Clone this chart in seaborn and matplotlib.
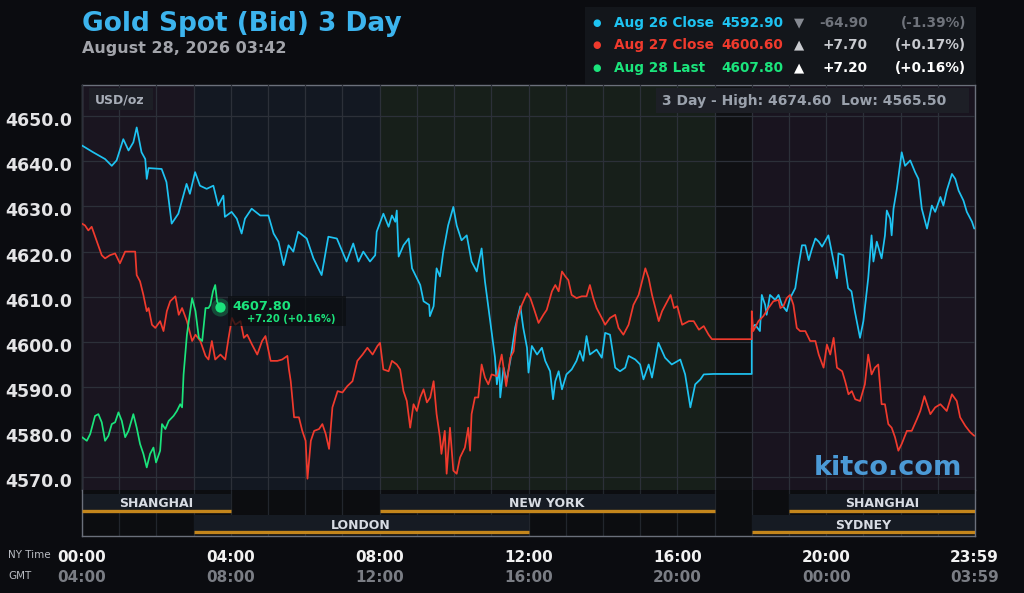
import matplotlib
matplotlib.use("Agg")
import matplotlib.pyplot as plt
import matplotlib.transforms as mtrans
from matplotlib.patches import Rectangle
import numpy as np
import pandas as pd
import seaborn as sns

# ---------------- data ----------------
aug26_hours = [0.00, 0.30, 0.62, 0.80, 0.93, 1.11, 1.25, 1.38, 1.47, 1.60, 1.70, 1.74, 1.79, 2.14, 2.27,
               2.41, 2.59, 2.81, 2.90, 3.04, 3.17, 3.35, 3.53, 3.66, 3.80, 3.84, 4.02, 4.16, 4.29, 4.38,
               4.56, 4.79, 5.01, 5.15, 5.28, 5.42, 5.55, 5.68, 5.81, 6.04, 6.22, 6.44, 6.62, 6.85, 7.11,
               7.29, 7.43, 7.56, 7.74, 7.88, 7.92, 8.10, 8.24, 8.33, 8.42, 8.46, 8.51, 8.64, 8.78, 8.87,
               9.00, 9.09, 9.18, 9.33, 9.35, 9.45, 9.53, 9.62, 9.71, 9.84, 9.98, 10.07, 10.20, 10.34, 10.47,
               10.61, 10.74, 10.83, 10.97, 11.10, 11.15, 11.22, 11.24, 11.33, 11.41, 11.51, 11.64, 11.78,
               11.86, 11.96, 12.00, 12.09, 12.23, 12.36, 12.45, 12.58, 12.66, 12.72, 12.81, 12.90, 13.02,
               13.16, 13.29, 13.38, 13.47, 13.56, 13.65, 13.83, 13.97, 14.06, 14.19, 14.33, 14.46, 14.60,
               14.69, 14.87, 15.00, 15.09, 15.23, 15.32, 15.49, 15.67, 15.85, 16.08, 16.21, 16.35, 16.48,
               16.62, 16.71, 16.97, 18.00, 18.00, 18.09, 18.22, 18.27, 18.36, 18.40, 18.49, 18.63, 18.72,
               18.81, 18.94, 19.03, 19.17, 19.26, 19.35, 19.44, 19.53, 19.62, 19.71, 19.80, 19.89, 20.06,
               20.20, 20.29, 20.33, 20.46, 20.59, 20.68, 20.77, 20.91, 21.00, 21.13, 21.22, 21.27, 21.36,
               21.49, 21.58, 21.63, 21.72, 21.76, 21.81, 21.90, 22.03, 22.12, 22.26, 22.39, 22.48, 22.57,
               22.71, 22.84, 22.93, 23.07, 23.15, 23.24, 23.38, 23.47, 23.56, 23.69, 23.78, 23.92, 23.98]
aug26_prices = [4643.5, 4642.0, 4640.5, 4639.0, 4640.2, 4644.9, 4642.4, 4644.2, 4647.5, 4642.0, 4640.5,
                4636.1, 4638.5, 4638.3, 4635.4, 4626.2, 4628.4, 4635.0, 4632.8, 4637.6, 4634.6, 4633.9,
                4634.6, 4630.2, 4632.4, 4627.7, 4628.8, 4627.3, 4624.0, 4627.3, 4629.5, 4628.0, 4628.0,
                4624.0, 4622.2, 4617.0, 4621.4, 4620.0, 4624.4, 4622.9, 4618.5, 4614.8, 4623.3, 4622.9,
                4617.8, 4621.8, 4617.8, 4620.0, 4617.8, 4619.2, 4624.4, 4628.4, 4625.5, 4628.0, 4626.6,
                4629.1, 4618.9, 4621.4, 4622.9, 4616.3, 4614.1, 4612.6, 4609.0, 4608.2, 4605.7, 4607.9,
                4616.3, 4614.5, 4620.0, 4625.8, 4629.9, 4625.8, 4622.5, 4623.6, 4617.8, 4615.6, 4620.7,
                4613.4, 4604.6, 4596.5, 4590.6, 4594.3, 4587.7, 4594.3, 4591.3, 4595.8, 4603.1, 4607.9,
                4603.1, 4598.7, 4593.2, 4599.1, 4597.2, 4598.7, 4595.8, 4593.5, 4587.3, 4591.3, 4593.5,
                4589.5, 4592.8, 4593.9, 4595.8, 4598.0, 4595.8, 4601.3, 4597.2, 4598.3, 4596.5, 4602.0,
                4601.6, 4594.3, 4593.5, 4594.3, 4596.9, 4596.1, 4595.0, 4591.7, 4595.0, 4592.1, 4599.8,
                4596.5, 4595.0, 4596.1, 4592.8, 4585.5, 4590.6, 4591.7, 4592.8, 4592.9, 4592.9, 4603.1,
                4603.8, 4602.4, 4610.4, 4608.2, 4606.0, 4610.4, 4609.3, 4610.4, 4608.2, 4606.8, 4609.7,
                4611.9, 4617.0, 4621.4, 4621.4, 4618.1, 4620.7, 4622.9, 4622.2, 4621.1, 4623.6, 4617.8,
                4614.1, 4619.6, 4619.2, 4611.9, 4611.2, 4606.8, 4600.9, 4604.6, 4614.1, 4623.6, 4617.8,
                4622.2, 4618.5, 4623.6, 4629.1, 4627.3, 4623.6, 4629.5, 4633.9, 4642.0, 4639.0, 4640.2,
                4637.6, 4636.1, 4629.5, 4625.1, 4630.2, 4628.8, 4632.1, 4630.2, 4633.5, 4637.2, 4636.1,
                4633.5, 4631.3, 4628.8, 4626.6, 4625.1]

aug27_hours = [0.00, 0.08, 0.17, 0.26, 0.40, 0.53, 0.62, 0.75, 0.89, 1.02, 1.16, 1.29, 1.43, 1.47, 1.56,
               1.65, 1.74, 1.79, 1.88, 1.97, 2.10, 2.19, 2.28, 2.37, 2.51, 2.60, 2.69, 2.82, 2.96, 3.05,
               3.18, 3.32, 3.40, 3.49, 3.58, 3.72, 3.85, 3.94, 4.03, 4.12, 4.26, 4.35, 4.44, 4.57, 4.71,
               4.84, 4.93, 5.07, 5.25, 5.38, 5.52, 5.56, 5.61, 5.70, 5.83, 5.92, 6.01, 6.06, 6.15, 6.24,
               6.37, 6.46, 6.55, 6.64, 6.73, 6.87, 7.00, 7.13, 7.27, 7.40, 7.54, 7.67, 7.81, 7.94, 8.01,
               8.10, 8.24, 8.33, 8.46, 8.55, 8.64, 8.73, 8.82, 8.91, 9.00, 9.09, 9.18, 9.27, 9.36, 9.45,
               9.53, 9.62, 9.66, 9.75, 9.80, 9.89, 9.98, 10.07, 10.16, 10.29, 10.38, 10.43, 10.47, 10.56,
               10.65, 10.74, 10.83, 10.92, 11.01, 11.15, 11.28, 11.40, 11.51, 11.60, 11.69, 11.82, 11.96,
               12.05, 12.14, 12.27, 12.40, 12.49, 12.63, 12.72, 12.81, 12.90, 12.99, 13.07, 13.16, 13.29,
               13.43, 13.56, 13.65, 13.74, 13.83, 13.97, 14.06, 14.19, 14.33, 14.42, 14.55, 14.69, 14.82,
               14.96, 15.05, 15.14, 15.23, 15.32, 15.41, 15.50, 15.59, 15.73, 15.82, 15.91, 16.00, 16.13,
               16.31, 16.44, 16.58, 16.71, 16.84, 16.93, 18.00, 18.00, 18.04, 18.18, 18.31, 18.45, 18.58,
               18.72, 18.77, 18.85, 18.94, 19.03, 19.12, 19.21, 19.30, 19.44, 19.57, 19.71, 19.80, 19.93,
               20.02, 20.11, 20.20, 20.29, 20.43, 20.51, 20.60, 20.69, 20.78, 20.91, 21.04, 21.13, 21.22,
               21.31, 21.40, 21.49, 21.58, 21.67, 21.76, 21.85, 21.94, 22.03, 22.17, 22.30, 22.44, 22.53,
               22.64, 22.80, 22.93, 23.07, 23.24, 23.38, 23.51, 23.60, 23.74, 23.87, 23.98]
aug27_prices = [4626.2, 4625.8, 4624.7, 4625.5, 4622.2, 4619.2, 4618.5, 4619.2, 4619.6, 4617.4, 4620.0,
                4620.0, 4620.0, 4614.8, 4613.4, 4610.4, 4606.8, 4607.5, 4603.8, 4603.1, 4604.6, 4602.4,
                4606.8, 4609.0, 4610.1, 4606.0, 4607.5, 4604.6, 4600.2, 4601.6, 4600.2, 4596.9, 4596.1,
                4600.2, 4596.1, 4597.2, 4596.1, 4600.9, 4605.3, 4603.8, 4604.6, 4600.9, 4601.6, 4599.4,
                4597.2, 4600.2, 4601.3, 4595.8, 4595.8, 4596.1, 4596.9, 4594.0, 4591.3, 4583.3, 4583.3,
                4580.3, 4578.1, 4569.7, 4578.1, 4580.3, 4580.7, 4581.8, 4579.6, 4576.3, 4585.5, 4589.1,
                4588.8, 4590.2, 4591.3, 4595.8, 4597.2, 4598.7, 4597.2, 4599.1, 4599.8, 4593.9, 4593.5,
                4595.8, 4595.0, 4593.9, 4589.1, 4586.9, 4581.0, 4586.2, 4584.7, 4587.7, 4589.5, 4586.6,
                4587.7, 4591.3, 4584.0, 4578.9, 4575.2, 4580.3, 4570.8, 4581.0, 4571.5, 4570.8, 4574.4,
                4576.6, 4581.0, 4575.9, 4584.0, 4587.7, 4587.7, 4595.0, 4592.1, 4590.6, 4592.8, 4592.4,
                4597.2, 4590.2, 4596.5, 4597.9, 4604.6, 4608.2, 4610.8, 4609.7, 4607.5, 4604.2, 4606.0,
                4607.1, 4611.2, 4612.6, 4611.2, 4615.6, 4614.5, 4613.7, 4610.4, 4609.7, 4610.1, 4610.1,
                4612.6, 4609.7, 4607.5, 4605.3, 4603.8, 4605.3, 4606.0, 4603.1, 4601.6, 4603.8, 4608.2,
                4610.4, 4613.4, 4616.3, 4614.1, 4610.4, 4607.5, 4604.6, 4606.8, 4609.0, 4610.4, 4607.5,
                4607.9, 4603.8, 4604.6, 4604.6, 4602.7, 4603.5, 4601.6, 4600.6, 4600.6, 4606.8, 4602.4,
                4604.6, 4605.7, 4607.5, 4609.0, 4609.3, 4607.5, 4607.9, 4609.7, 4610.4, 4608.2, 4603.1,
                4602.4, 4602.4, 4600.2, 4600.2, 4597.2, 4594.3, 4599.4, 4597.2, 4600.9, 4594.3, 4593.5,
                4591.3, 4588.4, 4589.1, 4587.3, 4586.9, 4590.6, 4597.2, 4592.8, 4594.3, 4595.0, 4586.2,
                4586.2, 4581.8, 4581.0, 4578.9, 4575.9, 4577.4, 4580.3, 4580.3, 4582.9, 4584.7, 4588.0,
                4584.0, 4585.5, 4586.2, 4584.7, 4588.4, 4586.9, 4583.3, 4581.4, 4580.0, 4579.2]

aug28_hours = [0.00, 0.13, 0.22, 0.35, 0.44, 0.53, 0.62, 0.71, 0.80, 0.89, 0.98, 1.07, 1.16, 1.25, 1.38,
               1.47, 1.56, 1.65, 1.74, 1.83, 1.92, 1.99, 2.10, 2.15, 2.24, 2.33, 2.46, 2.55, 2.64, 2.69,
               2.73, 2.82, 2.87, 2.96, 3.05, 3.14, 3.23, 3.32, 3.40, 3.45, 3.52, 3.58, 3.63, 3.70]
aug28_prices = [4578.9, 4578.1, 4579.6, 4583.6, 4584.0, 4582.2, 4578.1, 4579.2, 4581.8, 4582.2, 4584.4,
                4582.5, 4578.9, 4580.3, 4584.0, 4581.0, 4577.4, 4575.2, 4572.2, 4575.2, 4576.6, 4573.3,
                4575.9, 4581.8, 4580.7, 4582.5, 4583.6, 4584.7, 4586.2, 4585.5, 4592.8, 4601.6, 4604.6,
                4609.7, 4606.8, 4600.9, 4600.2, 4607.5, 4607.5, 4608.2, 4611.2, 4612.6, 4609.0, 4607.8]

series_names = ["Aug 26", "Aug 27", "Aug 28"]
legend_labels = ["Aug 26 Close", "Aug 27 Close", "Aug 28 Last"]
legend_values = ["4592.90", "4600.60", "4607.80"]
legend_changes = ["-64.90", "+7.70", "+7.20"]
legend_pcts = ["(-1.39%)", "(+0.17%)", "(+0.16%)"]
legend_arrows = ["\u25BC", "\u25B2", "\u25B2"]

y_ticks = [4570, 4580, 4590, 4600, 4610, 4620, 4630, 4640, 4650]
x_tick_hours = [0, 4, 8, 12, 16, 20, 23.983]
ny_labels = ["00:00", "04:00", "08:00", "12:00", "16:00", "20:00", "23:59"]
gmt_labels = ["04:00", "08:00", "12:00", "16:00", "20:00", "00:00", "03:59"]

# session background shading (start, end, color)
bg_spans = [(0, 3, "#1a1520"), (3, 8, "#131822"), (8, 17, "#171f1a"), (17, 18, "#0f1013"), (18, 24, "#19141f")]
# market sessions: (name, start, end, row)
sessions = [("SHANGHAI", 0, 4, 0), ("NEW YORK", 8, 17, 0), ("SHANGHAI", 19, 24, 0),
            ("LONDON", 3, 12, 1), ("SYDNEY", 18, 24, 1)]

# ---------------- style ----------------
BG = "#0b0c10"
sns.set_theme(style="dark")
plt.rcParams["font.family"] = ["DejaVu Sans"]
plt.rcParams["figure.facecolor"] = BG
plt.rcParams["axes.facecolor"] = BG
plt.rcParams["savefig.facecolor"] = BG

colors = {"Aug 26": "#1ec3f2", "Aug 27": "#f03a2d", "Aug 28": "#1be47c"}

W, H = 1024, 593
def fx(px):
    return px / W
def fy(py):
    return 1 - py / H

fig = plt.figure(figsize=(W / 100, H / 100), dpi=100)

L, R, T, B1, B2 = 82, 975, 85, 490, 536
ax = fig.add_axes([fx(L), fy(B1), (R - L) / W, (B1 - T) / H])
axb = fig.add_axes([fx(L), fy(B2), (R - L) / W, (B2 - B1) / H])

# background spans
for s, e, c in bg_spans:
    ax.axvspan(s, e, color=c, zorder=0, lw=0)

df = pd.concat([
    pd.DataFrame({"hour": aug26_hours, "price": aug26_prices, "day": "Aug 26"}),
    pd.DataFrame({"hour": aug27_hours, "price": aug27_prices, "day": "Aug 27"}),
    pd.DataFrame({"hour": aug28_hours, "price": aug28_prices, "day": "Aug 28"}),
], ignore_index=True)

sns.lineplot(data=df, x="hour", y="price", hue="day", hue_order=series_names, palette=colors,
             estimator=None, sort=False, legend=False, ax=ax, linewidth=1.25, zorder=3)

ax.set_xlim(0, 24)
ax.set_ylim(4567.2, 4656.9)
ax.set_xticks(range(0, 25))
ax.set_yticks(y_ticks)
ax.grid(True, color="#2c3039", linewidth=0.9, zorder=1)
ax.set_axisbelow(False)
for gl in ax.get_xgridlines() + ax.get_ygridlines():
    gl.set_zorder(1)
ax.set_xlabel("")
ax.set_ylabel("")
ax.tick_params(axis="x", labelbottom=False, length=0)
ax.tick_params(axis="y", length=0, pad=7, labelsize=12.5, labelcolor="#e4e4e6")
ax.set_yticklabels([f"{v:.1f}" for v in y_ticks], fontweight="bold")
for lab in ax.get_yticklabels():
    lab.set_transform(lab.get_transform() + mtrans.ScaledTranslation(0, -3 / 100, fig.dpi_scale_trans))
for side in ["top", "left", "right"]:
    ax.spines[side].set_color("#6b707b")
    ax.spines[side].set_linewidth(1)
ax.spines["bottom"].set_visible(False)

# green last point marker with glow
ax.scatter([aug28_hours[-1]], [aug28_prices[-1]], s=170, color=colors["Aug 28"], alpha=0.25, zorder=5, lw=0)
ax.scatter([aug28_hours[-1]], [aug28_prices[-1]], s=55, color=colors["Aug 28"], zorder=6, lw=0)

# session band axes
axb.set_xlim(0, 24)
axb.set_ylim(0, 1)
axb.set_xticks(range(0, 25))
axb.set_yticks([])
axb.grid(True, axis="x", color="#22262d", linewidth=0.9)
axb.set_axisbelow(True)
axb.tick_params(axis="x", labelbottom=False, length=0)
for side in ["bottom", "left", "right"]:
    axb.spines[side].set_color("#6b707b")
    axb.spines[side].set_linewidth(1)
axb.spines["top"].set_visible(False)
axb.set_facecolor("#0c0d10")
row_geo = {0: (0.507, 0.913, 0.547, 0.696), 1: (0.059, 0.457, 0.097, 0.235)}
for name, s, e, row in sessions:
    b, t, ly, ty = row_geo[row]
    axb.add_patch(Rectangle((s, b), e - s, t - b, facecolor="#161b23", edgecolor="none", zorder=2))
    axb.plot([s, e], [ly, ly], color="#c4861c", linewidth=2.4, solid_capstyle="butt", zorder=3)
    axb.text((s + e) / 2, ty, name, ha="center", va="center", fontsize=9, fontweight="bold",
             color="#d8dce3", zorder=4)

# ---------------- texts ----------------
fig.text(fx(82), fy(24), "Gold Spot (Bid) 3 Day", fontsize=19, fontweight="bold", color="#3cb4ee",
         ha="left", va="center")
fig.text(fx(82), fy(48), "August 28, 2026 03:42", fontsize=11.5, fontweight="bold", color="#a2a4aa",
         ha="left", va="center")

# legend box
fig.patches.append(Rectangle((fx(585), fy(84)), (976 - 585) / W, (84 - 7) / H, transform=fig.transFigure,
                             facecolor="#13161b", edgecolor="none", zorder=0))
row_y = [22.7, 45.3, 68.3]
chg_colors = ["#6f737b", "#c9cbd0", "#ffffff"]
arrow_colors = ["#868a92", "#c9cbd0", "#ffffff"]
for i, name in enumerate(series_names):
    yy = fy(row_y[i])
    c = colors[name]
    fig.text(fx(597), yy, "\u25CF", color=c, fontsize=7, ha="center", va="center")
    fig.text(fx(614), yy, legend_labels[i], color=c, fontsize=9.8, fontweight="bold", ha="left", va="center")
    fig.text(fx(783), yy, legend_values[i], color=c, fontsize=9.8, fontweight="bold", ha="right", va="center")
    fig.text(fx(799), yy, legend_arrows[i], color=arrow_colors[i], fontsize=9.5, ha="center", va="center")
    fig.text(fx(868), yy, legend_changes[i], color=chg_colors[i], fontsize=9.8, fontweight="bold",
             ha="right", va="center")
    fig.text(fx(966), yy, legend_pcts[i], color=chg_colors[i], fontsize=9.8, fontweight="bold",
             ha="right", va="center")

# in-plot boxes
fig.patches.append(Rectangle((fx(89), fy(110)), (153 - 89) / W, (110 - 88) / H, transform=fig.transFigure,
                             facecolor="#1d1f26", edgecolor="none", zorder=5))
fig.text(fx(95), fy(100), "USD/oz", color="#a8aeb8", fontsize=9, fontweight="bold", ha="left", va="center",
         zorder=6)
fig.patches.append(Rectangle((fx(656), fy(113)), (969 - 656) / W, (113 - 88) / H, transform=fig.transFigure,
                             facecolor="#1d1f26", edgecolor="none", zorder=5))
fig.text(fx(662), fy(101), "3 Day - High: 4674.60  Low: 4565.50", color="#9aa1ac", fontsize=10,
         fontweight="bold", ha="left", va="center", zorder=6)

# green last-price label
fig.patches.append(Rectangle((fx(228), fy(326)), (346 - 228) / W, (326 - 296) / H, transform=fig.transFigure,
                             facecolor="#0b0e11", alpha=0.75, edgecolor="none", zorder=5))
fig.text(fx(232), fy(306.5), legend_values[2], color=colors["Aug 28"], fontsize=9.3, fontweight="bold",
         ha="left", va="center", zorder=6)
fig.text(fx(247), fy(319), "+7.20 (+0.16%)", color=colors["Aug 28"], fontsize=7.2, fontweight="bold",
         ha="left", va="center", zorder=6)

# watermark
fig.text(fx(888), fy(468), "kitco.com", color="#4b9ad6", fontsize=19.5, fontweight="bold",
         ha="center", va="center", zorder=6)

# time axis labels
fig.text(fx(8), fy(555), "NY Time", color="#b9bcc2", fontsize=7.5, ha="left", va="center")
fig.text(fx(8), fy(576), "GMT", color="#b9bcc2", fontsize=7.5, ha="left", va="center")
tr = mtrans.blended_transform_factory(axb.transData, fig.transFigure)
for h, ny, gm in zip(x_tick_hours, ny_labels, gmt_labels):
    axb.text(h, fy(557), ny, transform=tr, ha="center", va="center", fontsize=11, fontweight="bold",
             color="#f2f2f2", clip_on=False)
    axb.text(h, fy(577), gm, transform=tr, ha="center", va="center", fontsize=11, fontweight="bold",
             color="#7a7d84", clip_on=False)

fig.savefig("out.png", dpi=100, facecolor=BG)
